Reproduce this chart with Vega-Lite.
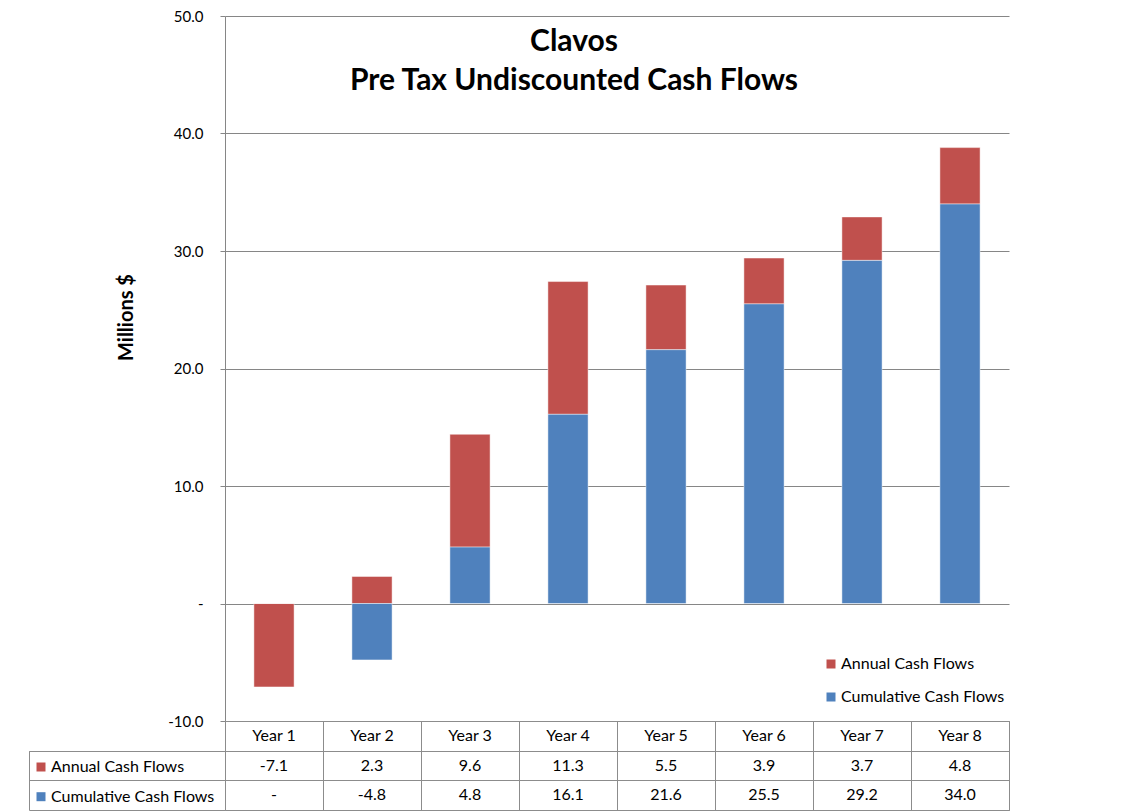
{
  "$schema": "https://vega.github.io/schema/vega-lite/v6.json",
  "padding": {"left": 28, "top": 9, "right": 0, "bottom": 0},
  "background": "white",
  "spacing": 0,
  "bounds": "flush",
  "resolve": {"legend": {"color": "independent"}},
  "config": {
    "font": "Lato",
    "view": {"stroke": null},
    "locale": {"number": {"decimal": ".", "thousands": ",", "grouping": [3], "currency": ["$", ""], "minus": "-"}},
    "axis": {"labelFont": "Lato", "titleFont": "Lato", "labelColor": "#000000", "titleColor": "#000000"},
    "legend": {"labelFont": "Lato", "labelColor": "#000000", "padding": 0, "labelLimit": 400}
  },
  "datasets": {
    "cf": [
      {"year": "Year 1", "series": "Annual Cash Flows", "value": -7.1},
      {"year": "Year 1", "series": "Cumulative Cash Flows", "value": 0},
      {"year": "Year 2", "series": "Annual Cash Flows", "value": 2.3},
      {"year": "Year 2", "series": "Cumulative Cash Flows", "value": -4.8},
      {"year": "Year 3", "series": "Annual Cash Flows", "value": 9.6},
      {"year": "Year 3", "series": "Cumulative Cash Flows", "value": 4.8},
      {"year": "Year 4", "series": "Annual Cash Flows", "value": 11.3},
      {"year": "Year 4", "series": "Cumulative Cash Flows", "value": 16.1},
      {"year": "Year 5", "series": "Annual Cash Flows", "value": 5.5},
      {"year": "Year 5", "series": "Cumulative Cash Flows", "value": 21.6},
      {"year": "Year 6", "series": "Annual Cash Flows", "value": 3.9},
      {"year": "Year 6", "series": "Cumulative Cash Flows", "value": 25.5},
      {"year": "Year 7", "series": "Annual Cash Flows", "value": 3.7},
      {"year": "Year 7", "series": "Cumulative Cash Flows", "value": 29.2},
      {"year": "Year 8", "series": "Annual Cash Flows", "value": 4.8},
      {"year": "Year 8", "series": "Cumulative Cash Flows", "value": 34.0}
    ]
  },
  "vconcat": [
    {
      "width": 784,
      "height": 705,
      "view": {"stroke": null},
      "title": {
        "text": ["Clavos", "Pre Tax Undiscounted Cash Flows"],
        "font": "Lato", "fontSize": 30, "fontWeight": "bold", "color": "#000000",
        "anchor": "middle", "frame": "group", "baseline": "top",
        "offset": -87, "dx": -43, "lineHeight": 39
      },
      "data": {"name": "cf"},
      "mark": {"type": "bar", "stroke": "#ffffff", "strokeOpacity": 0.45, "strokeWidth": 1},
      "encoding": {
        "x": {"field": "year", "type": "nominal", "sort": null,
              "scale": {"paddingInner": 0.59, "paddingOuter": 0.295}, "axis": null},
        "y": {"field": "value", "type": "quantitative", "stack": "zero",
              "scale": {"domain": [-10, 50], "nice": false, "zero": false},
              "axis": {
                "values": [-10, 0, 10, 20, 30, 40, 50],
                "labelExpr": "datum.value == 0 ? '-' : format(datum.value, '.1f')",
                "grid": true, "gridColor": "#868686", "gridOpacity": 1,
                "domainColor": "#868686", "tickColor": "#868686", "tickSize": 5,
                "labelPadding": 17, "labelFontSize": 15,
                "title": "Millions $", "titleFontSize": 20, "titleFontWeight": "bold",
                "titleX": -99, "titleY": 301, "titleBaseline": "middle", "titleAngle": -90
              }},
        "color": {"field": "series", "type": "nominal",
                  "scale": {"domain": ["Annual Cash Flows", "Cumulative Cash Flows"], "range": ["#C0504D", "#4F81BD"]},
                  "legend": {"orient": "none", "legendX": 598, "legendY": 640, "title": null,
                             "symbolType": "square", "symbolSize": 81, "labelFontSize": 16,
                             "labelOffset": 2, "rowPadding": 17, "symbolStrokeWidth": 0}},
        "order": {"field": "series", "sort": "descending"}
      }
    },
    {
      "width": 784,
      "height": 89,
      "view": {"stroke": "#8c8c8c", "strokeWidth": 1},
      "data": {"name": "cf"},
      "encoding": {
        "x": {"field": "year", "type": "nominal", "sort": null,
              "scale": {"paddingInner": 0, "paddingOuter": 0},
              "axis": {"grid": true, "tickBand": "extent", "labels": false, "ticks": false,
                       "domain": false, "title": null, "gridColor": "#8c8c8c", "gridOpacity": 1}}
      },
      "layer": [
        {
          "mark": {"type": "square", "opacity": 0},
          "encoding": {
            "y": {"field": "series", "type": "nominal",
                  "scale": {"domain": ["hdr", "Annual Cash Flows", "Cumulative Cash Flows"], "paddingInner": 0, "paddingOuter": 0},
                  "axis": {"orient": "left", "offset": 196,
                           "values": ["Annual Cash Flows", "Cumulative Cash Flows"],
                           "tickBand": "extent", "grid": true, "gridColor": "#8c8c8c", "gridOpacity": 1,
                           "ticks": true, "tickSize": -196, "tickColor": "#8c8c8c",
                           "labels": false, "domain": true, "domainColor": "#8c8c8c",
                           "domainDash": [59.33, 29.67], "domainDashOffset": 59.33, "title": null}},
            "color": {"field": "series", "type": "nominal",
                      "legend": {"orient": "none", "legendX": -192, "legendY": 38, "title": null,
                                 "symbolType": "square", "symbolSize": 81, "symbolOpacity": 1,
                                 "labelFontSize": 16, "labelOffset": 2, "rowPadding": 13.7,
                                 "symbolStrokeWidth": 0}}
          }
        },
        {
          "mark": {"type": "text", "fontSize": 16, "font": "Lato", "color": "#000000"},
          "encoding": {
            "y": {"field": "series", "type": "nominal"},
            "text": {"field": "value", "type": "quantitative", "format": ".1f",
                     "condition": {"test": "datum.value == 0", "value": "-"}}
          }
        },
        {
          "transform": [{"filter": "datum.series == 'Annual Cash Flows'"}],
          "mark": {"type": "text", "fontSize": 16, "font": "Lato", "color": "#000000"},
          "encoding": {
            "y": {"datum": "hdr"},
            "text": {"field": "year", "type": "nominal"}
          }
        }
      ]
    }
  ]
}
